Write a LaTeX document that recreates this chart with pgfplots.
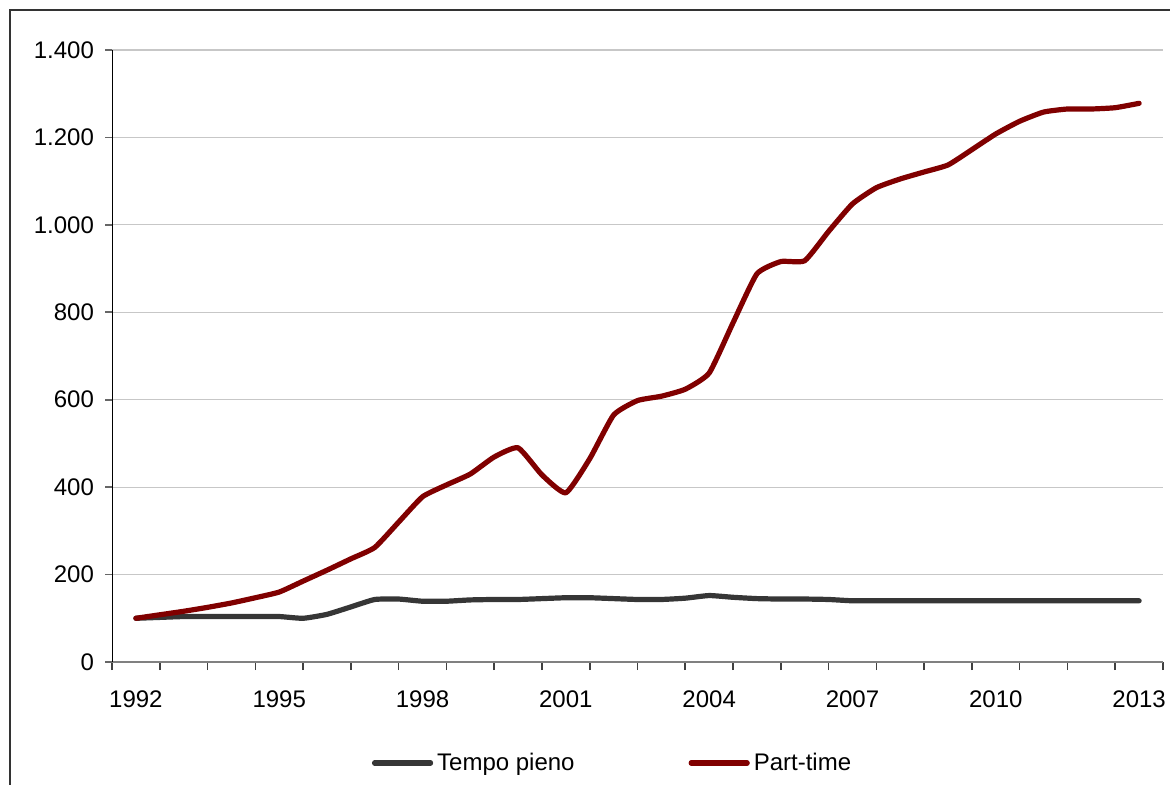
\documentclass[border=0pt]{standalone}
\usepackage{pgfplots}
\pgfplotsset{compat=1.18}
\usepackage{fontspec}
\setmainfont{Liberation Sans}
\definecolor{ptred}{RGB}{128,0,0}
\definecolor{fpgray}{RGB}{54,54,54}
\pgfplotstableread{
year val
1992.0 100
1992.5 102
1993.0 104
1993.5 104
1994.0 104
1994.5 104
1995.0 104
1995.5 100
1996.0 109
1996.5 126
1997.0 143
1997.5 144
1998.0 139
1998.5 139
1999.0 142
1999.5 143
2000.0 143
2000.5 145
2001.0 147
2001.5 147
2002.0 145
2002.5 143
2003.0 143
2003.5 146
2004.0 152
2004.5 148
2005.0 145
2005.5 144
2006.0 144
2006.5 143
2007.0 140
2007.5 140
2008.0 140
2008.5 140
2009.0 140
2009.5 140
2010.0 140
2010.5 140
2011.0 140
2011.5 140
2012.0 140
2012.5 140
2013.0 140
}\fulltime
\pgfplotstableread{
year val
1992.0 100
1992.5 108
1993.0 116
1993.5 125
1994.0 135
1994.5 147
1995.0 160
1995.5 185
1996.0 210
1996.5 236
1997.0 262
1997.5 320
1998.0 378
1998.5 405
1999.0 430
1999.5 469
2000.0 490
2000.5 428
2001.0 387
2001.5 465
2002.0 565
2002.5 598
2003.0 608
2003.5 624
2004.0 661
2004.5 776
2005.0 888
2005.5 916
2006.0 918
2006.5 985
2007.0 1048
2007.5 1085
2008.0 1105
2008.5 1121
2009.0 1137
2009.5 1172
2010.0 1208
2010.5 1237
2011.0 1258
2011.5 1265
2012.0 1265
2012.5 1268
2013.0 1278
}\parttime
\begin{document}
\begin{tikzpicture}
\useasboundingbox (0,0) rectangle (585pt,392.5pt);
\draw[color=black!80, line width=0.6pt] (5pt,-5pt) -- (5pt,387.5pt) -- (590pt,387.5pt);
\begin{axis}[
  at={(56pt,61.5pt)}, anchor=south west,
  scale only axis, width=525.5pt, height=306pt,
  xmin=1991.5, xmax=2013.5, ymin=0, ymax=1400,
  xtick={1992,1995,...,2013},
  minor xtick={1991.5,1992.5,...,2013.5},
  ytick={0,200,...,1400},
  tick align=outside,
  major x tick style={draw=none},
  minor x tick style={black!75, line width=0.8pt},
  minor tick length=4pt,
  major tick length=3.5pt,
  y tick style={black!60, line width=0.8pt},
  ymajorgrids, grid style={color=black!22, line width=0.6pt},
  axis x line*=bottom, axis y line*=left,
  x axis line style={black!50, line width=0.9pt, -},
  y axis line style={black, line width=0.5pt, -},
  tick label style={font=\fontsize{12}{14}\selectfont, black},
  /pgf/number format/assume math mode=true,
  xticklabel style={/pgf/number format/1000 sep={}, yshift=-7.5pt},
  yticklabel style={/pgf/number format/1000 sep={.}, xshift=-2pt},
  legend style={at={(0.4772,-0.165)}, anchor=center, draw=none, fill=none,
    legend columns=2, font=\fontsize{12}{14}\selectfont,
    /tikz/every even column/.append style={column sep=55pt}},
  legend image code/.code={\draw[#1, line width=2.6pt, line cap=round] (0pt,0pt) -- (28pt,0pt);},
]
\addplot[fpgray, line width=2.6pt, line cap=round, line join=round, smooth, tension=0.3] table[x=year,y=val]{\fulltime};
\addlegendentry{Tempo pieno}
\addplot[ptred, line width=2.6pt, line cap=round, line join=round, smooth, tension=0.3] table[x=year,y=val]{\parttime};
\addlegendentry{Part-time}
\end{axis}
\end{tikzpicture}
\end{document}
